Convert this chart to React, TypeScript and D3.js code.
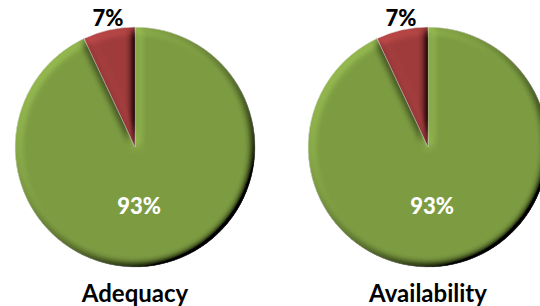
import React, { useRef, useEffect } from "react";
import * as d3 from "d3";

// chart data
const charts = ["Adequacy", "Availability"];
const sliceNames = ["Yes", "No"];
const adequacyValues = [93, 7];
const availabilityValues = [93, 7];
const sliceColors = ["#7d9c42", "#a03c3c"];

const W = 540;
const H = 306;

function PieCharts() {
    const svgRef = useRef<SVGSVGElement>(null);

    useEffect(() => {
        const svg = d3.select(svgRef.current);
        svg.selectAll("*").remove();

        // bevel filter, light from top-left
        const defs = svg.append("defs");
        const f = defs.append("filter").attr("id", "bevel")
            .attr("x", "-10%").attr("y", "-10%").attr("width", "120%").attr("height", "120%");
        f.append("feGaussianBlur").attr("in", "SourceAlpha").attr("stdDeviation", 4).attr("result", "blur");
        const diff = f.append("feDiffuseLighting")
            .attr("in", "blur").attr("surfaceScale", 7).attr("diffuseConstant", 1)
            .attr("lighting-color", "white").attr("result", "light");
        diff.append("feDistantLight").attr("azimuth", 225).attr("elevation", 45);
        f.append("feComposite").attr("in", "SourceGraphic").attr("in2", "light")
            .attr("operator", "arithmetic").attr("k1", 1.414).attr("k2", 0).attr("k3", 0).attr("k4", 0)
            .attr("result", "lit");
        f.append("feComposite").attr("in", "lit").attr("in2", "SourceAlpha").attr("operator", "in");

        const series = [adequacyValues, availabilityValues];
        const x = d3.scalePoint<string>().domain(charts).range([135, 428]);
        const cy = 147;
        const r = 120;

        const pie = d3.pie<number>().sort(null).startAngle(0).endAngle(2 * Math.PI);
        const arc = d3.arc<d3.PieArcDatum<number>>().innerRadius(0).outerRadius(r);
        const outerLabel = d3.arc<d3.PieArcDatum<number>>().innerRadius(124).outerRadius(124);
        const innerLabel = d3.arc<d3.PieArcDatum<number>>().innerRadius(60).outerRadius(60);
        const color = d3.scaleOrdinal<string>().domain(sliceNames).range(sliceColors);
        const total = (v: number[]) => d3.sum(v);

        charts.forEach((name, ci) => {
            const values = series[ci];
            const arcs = pie(values);
            const g = svg.append("g").attr("transform", `translate(${x(name)},${cy})`);

            g.selectAll("path.slice")
                .data(arcs)
                .join("path")
                .attr("class", "slice")
                .attr("d", arc)
                .attr("fill", (d, i) => color(sliceNames[i]))
                .attr("stroke", "#e8e8e8")
                .attr("stroke-width", 0.6)
                .attr("filter", "url(#bevel)");

            arcs.forEach((d, i) => {
                const pct = Math.round((d.data / total(values)) * 100) + "%";
                const big = d.data / total(values) > 0.5;
                const [lx, ly] = big ? innerLabel.centroid(d) : outerLabel.centroid(d);
                g.append("text")
                    .attr("x", big ? lx - 9 : lx)
                    .attr("y", big ? ly + 8 : ly)
                    .attr("text-anchor", "middle")
                    .attr("font-family", "Lato, sans-serif")
                    .attr("font-weight", 900)
                    .attr("font-size", 22)
                    .attr("fill", big ? "#ffffff" : "#000000")
                    .text(pct);
            });

            svg.append("text")
                .attr("x", x(name)!)
                .attr("y", 302)
                .attr("text-anchor", "middle")
                .attr("font-family", "Lato, sans-serif")
                .attr("font-weight", "bold")
                .attr("font-size", 24)
                .attr("fill", "#000")
                .text(name);
        });
    }, []);

    return (
        <svg ref={svgRef} width={W} height={H}
            style={{ position: "absolute", left: 0, top: 0, background: "#fff" }} />
    );
}

export default function App() {
    return <PieCharts />;
}
